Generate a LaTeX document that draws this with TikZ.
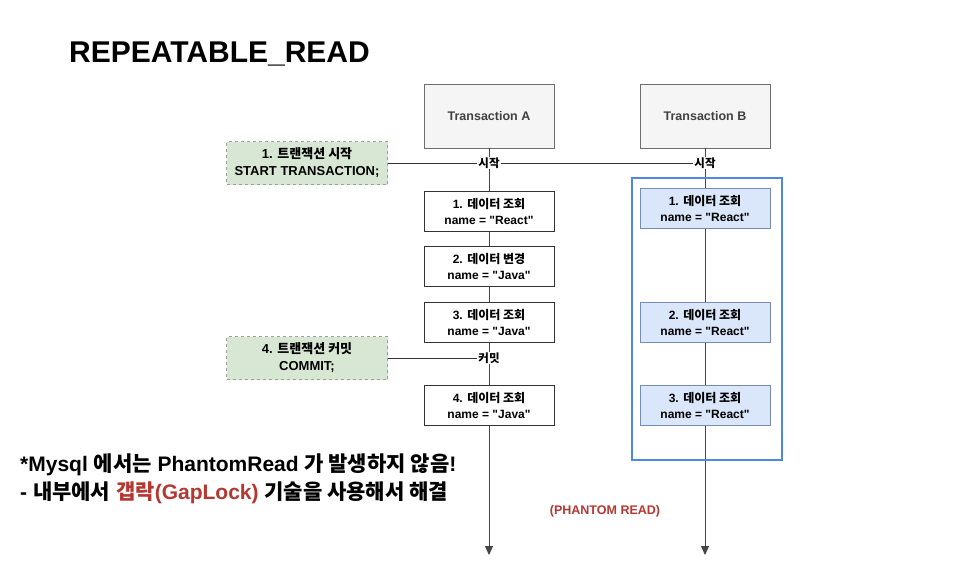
\documentclass[tikz,border=0pt]{standalone}
\usepackage{fontspec}
\setmainfont{Liberation Sans}
\newfontfamily\kr{Noto Sans CJK KR}
\newcommand\ko[1]{{\kr #1}}
\newcommand\qv[1]{\textquotedbl#1\textquotedbl}
\usetikzlibrary{arrows.meta,positioning}
\definecolor{txfill}{RGB}{245,245,245}
\definecolor{txdraw}{RGB}{110,110,110}
\definecolor{cmdfill}{RGB}{216,231,211}
\definecolor{cmddraw}{RGB}{150,165,145}
\definecolor{readfill}{RGB}{218,230,250}
\definecolor{readdraw}{RGB}{120,140,175}
\definecolor{phblue}{RGB}{80,135,225}
\definecolor{phred}{RGB}{180,55,50}
\definecolor{lifegray}{RGB}{70,70,70}
\tikzset{
  txbox/.style={draw=txdraw, fill=txfill, line width=0.8pt, text=black!75,
                font=\bfseries\fontsize{12.5}{14}\selectfont,
                minimum width=130pt, minimum height=64pt},
  stepbox/.style={draw=black!80, fill=white, line width=1pt, align=center,
                  font=\bfseries\fontsize{12}{16}\selectfont,
                  minimum width=130pt, minimum height=40pt, inner sep=1pt},
  readbox/.style={draw=readdraw, fill=readfill, line width=0.8pt, align=center,
                  font=\bfseries\fontsize{12}{16}\selectfont,
                  minimum width=130pt, minimum height=40pt, inner sep=1pt},
  cmdbox/.style={draw=cmddraw, fill=cmdfill, dashed, line width=1pt, align=center,
                 font=\bfseries\fontsize{13}{17}\selectfont,
                 minimum width=161pt, minimum height=43pt, inner sep=1pt},
  evlabel/.style={fill=white, inner sep=1pt, font=\kr\bfseries\fontsize{11.5}{13}\selectfont},
  life/.style={draw=lifegray, line width=1pt, -{Triangle[width=8pt,length=9pt]}},
  notetext/.style={anchor=west, inner sep=0pt, font=\bfseries\fontsize{21}{25}\selectfont},
}

\begin{document}
\begin{tikzpicture}[x=1pt, y=-1pt]
\useasboundingbox (0,0) rectangle (958,574);
% Title
\node[font=\bfseries\fontsize{30}{32}\selectfont, anchor=west, inner sep=0pt] (title) at (69,54) {REPEATABLE\_READ};

% Transaction headers and lifelines
\node[txbox] (txA) at (489,116) {Transaction A};
\node[txbox] (txB) at (705,116) {Transaction B};
\coordinate (endA) at (489,555);
\coordinate (endB) at (705,555);
\draw[life] (txA.south) -- (endA);
\draw[life] (txB.south) -- (endB);

% Phantom read area
\draw[phblue, line width=2.5pt] (632,178) rectangle (782,460);

% Commands on the left
\node[cmdbox] (cmd1) at (307,163) {1. \ko{트랜잭션 시작}\\START TRANSACTION;};
\node[cmdbox] (cmd4) at (307,358) {4. \ko{트랜잭션 커밋}\\COMMIT;};
\node[evlabel] (startA) at (489,163) {시작};
\node[evlabel] (startB) at (705,163) {시작};
\node[evlabel] (commitA) at (489,358) {커밋};
\draw[black!80, line width=1pt] (cmd1.east) -- (startA.west);
\draw[black!80, line width=1pt] (startA.east) -- (startB.west);
\draw[black!80, line width=1pt] (cmd4.east) -- (commitA.west);

% Transaction A steps
\node[stepbox] (a1) at (489,211) {1. \ko{데이터 조회}\\name = \qv{React}};
\node[stepbox] (a2) at (489,266) {2. \ko{데이터 변경}\\name = \qv{Java}};
\node[stepbox] (a3) at (489,322) {3. \ko{데이터 조회}\\name = \qv{Java}};
\node[stepbox] (a4) at (489,405) {4. \ko{데이터 조회}\\name = \qv{Java}};

% Transaction B steps
\node[readbox] (b1) at (705,208) {1. \ko{데이터 조회}\\name = \qv{React}};
\node[readbox] (b2) at (705,322) {2. \ko{데이터 조회}\\name = \qv{React}};
\node[readbox] (b3) at (705,405) {3. \ko{데이터 조회}\\name = \qv{React}};

\node[text=phred, font=\bfseries\fontsize{12.5}{14}\selectfont] (phlabel) at (605,511) {(PHANTOM READ)};

% Note at the bottom
\node[notetext] (note1) at (20,465) {*Mysql \ko{에서는} PhantomRead \ko{가 발생하지 않음}!};
\node[notetext] (note2) at (20,493) {- \ko{내부에서} \textcolor{phred}{\ko{갭락}(GapLock)} \ko{기술을 사용해서 해결}};
\end{tikzpicture}
\end{document}
